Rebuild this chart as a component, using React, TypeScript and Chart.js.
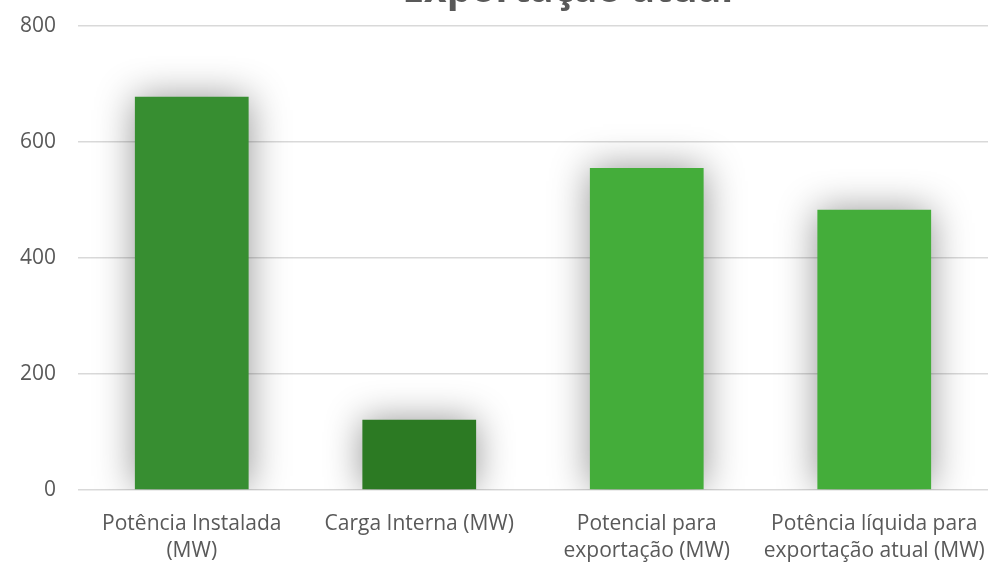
import React, { useEffect, useRef } from "react";
import { Chart, registerables } from "chart.js";

Chart.register(...registerables);

const TITLE = "Exportação atual";
const CATEGORIES: string[][] = [
  ["Potência Instalada", "(MW)"],
  ["Carga Interna (MW)"],
  ["Potencial para", "exportação (MW)"],
  ["Potência líquida para", "exportação atual (MW)"],
];
const VALUES = [678, 121, 555, 483];
const BAR_COLORS = ["#378E31", "#2C7A23", "#44AD3A", "#44AD3A"];
const Y_TICKS = [0, 200, 400, 600, 800];

const FONT = "'Open Sans', 'DejaVu Sans', sans-serif";
const TEXT = "#595959";

// Soft drop shadow behind every bar
const barShadow = {
  id: "barShadow",
  beforeDatasetDraw(chart: any) {
    const ctx = chart.ctx;
    ctx.save();
    ctx.shadowColor = "rgba(0,0,0,0.42)";
    ctx.shadowBlur = 36;
    ctx.shadowOffsetX = 0;
    ctx.shadowOffsetY = 0;
  },
  afterDatasetDraw(chart: any) {
    chart.ctx.restore();
  },
};

// Title that sits at the very top edge of the canvas
const topTitle = {
  id: "topTitle",
  afterDraw(chart: any) {
    const ctx = chart.ctx;
    ctx.save();
    ctx.font = `bold 39px ${FONT}`;
    ctx.fillStyle = TEXT;
    ctx.textAlign = "center";
    ctx.textBaseline = "alphabetic";
    ctx.fillText(TITLE, chart.width * 0.574, 2);
    ctx.restore();
  },
};

export default function App() {
  const ref = useRef<HTMLCanvasElement | null>(null);

  useEffect(() => {
    if (!ref.current) return;
    const chart = new Chart(ref.current, {
      type: "bar",
      data: {
        labels: CATEGORIES,
        datasets: [
          {
            data: VALUES,
            backgroundColor: BAR_COLORS,
            borderWidth: 0,
            categoryPercentage: 1,
            barPercentage: 0.5,
          },
        ],
      },
      options: {
        animation: false,
        responsive: true,
        maintainAspectRatio: false,
        layout: { padding: { top: 26, right: 1, bottom: 0, left: 0 } },
        plugins: {
          legend: { display: false },
          title: { display: false },
          tooltip: { enabled: false },
        },
        scales: {
          x: {
            grid: { display: false },
            border: { display: false },
            afterFit(axis: any) {
              axis.height = 72;
              axis.paddingLeft = 0;
              axis.paddingRight = 0;
            },
            ticks: {
              color: TEXT,
              font: { family: FONT, size: 21, lineHeight: 1.3 },
              padding: 12,
              maxRotation: 0,
              autoSkip: false,
            },
          },
          y: {
            min: 0,
            max: 800,
            afterBuildTicks(axis: any) {
              axis.ticks = Y_TICKS.map((v) => ({ value: v }));
            },
            afterFit(axis: any) {
              axis.width = 78;
              axis.paddingTop = 0;
              axis.paddingBottom = 0;
            },
            grid: { color: "#d9d9d9", lineWidth: 1.5, drawTicks: false },
            border: { display: false },
            ticks: {
              color: TEXT,
              font: { family: FONT, size: 21 },
              padding: 22,
            },
          },
        },
      },
      plugins: [barShadow, topTitle],
    });
    return () => chart.destroy();
  }, []);

  return (
    <div
      style={{
        position: "absolute",
        left: 0,
        top: 0,
        width: 989,
        height: 562,
        overflow: "hidden",
        background: "#ffffff",
      }}
    >
      <canvas ref={ref} />
    </div>
  );
}
